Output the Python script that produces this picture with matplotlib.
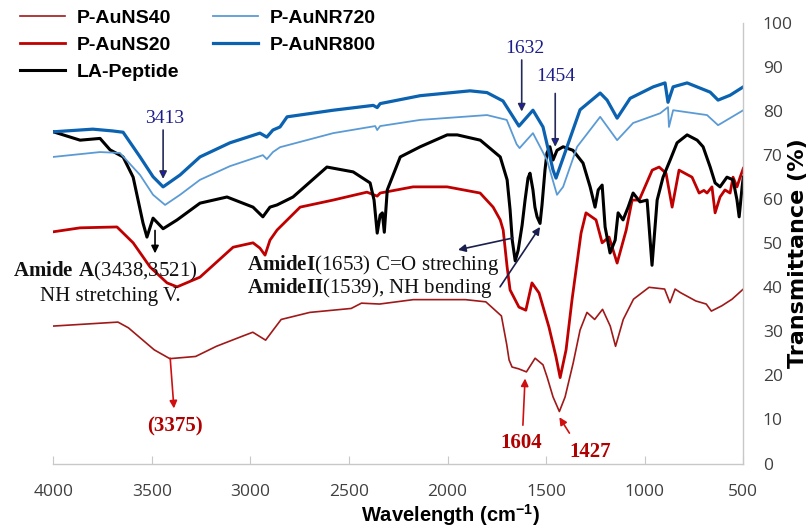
import matplotlib
matplotlib.use('Agg')
import matplotlib.pyplot as plt
from matplotlib.font_manager import FontProperties

plt.rcParams['mathtext.fontset'] = 'custom'
plt.rcParams['mathtext.rm'] = 'Liberation Serif'
plt.rcParams['mathtext.bf'] = 'Liberation Serif:bold'
plt.rcParams['mathtext.sf'] = 'Liberation Sans:bold'

# ---------------- data (wavenumber cm-1, transmittance %) ----------------
wn_nr800 = [4000, 3800, 3700, 3646, 3560, 3494, 3443, 3357, 3256, 3104, 2952, 2917, 2886,
            2850, 2814, 2580, 2377, 2357, 2342, 2139, 1886, 1800, 1719, 1648, 1638, 1567,
            1516, 1465, 1450, 1394, 1328, 1226, 1191, 1140, 1074, 957, 897, 882, 856, 785,
            668, 628, 567, 500]
t_nr800 = [75.3, 75.9, 75.5, 75.2, 69.6, 65.1, 62.8, 65.5, 69.6, 72.8, 75.0, 74.1, 75.7,
           76.4, 78.7, 80.2, 81.3, 80.8, 81.7, 83.5, 84.6, 84.2, 82.3, 77.3, 76.6, 80.2,
           76.4, 66.6, 64.8, 71.9, 80.3, 84.1, 82.5, 78.4, 82.9, 85.5, 86.4, 82.0, 85.5, 86.4,
           84.3, 82.5, 83.6, 85.5]

wn_nr720 = [4000, 3763, 3662, 3560, 3494, 3433, 3357, 3256, 3104, 2937, 2917, 2886, 2850,
            2580, 2367, 2357, 2342, 2139, 1800, 1700, 1650, 1635, 1567, 1496, 1445, 1414,
            1343, 1226, 1140, 1059, 922, 882, 877, 856, 684, 628, 500]
t_nr720 = [69.6, 70.7, 70.5, 65.5, 61.0, 58.7, 61.0, 64.4, 67.5, 70.0, 69.1, 70.7, 71.8,
           75.0, 76.6, 75.7, 76.6, 78.0, 79.1, 78.0, 72.5, 71.6, 75.0, 68.9, 61.0, 62.8,
           71.9, 78.7, 73.4, 77.3, 79.5, 80.9, 76.4, 80.2, 79.1, 76.8, 80.2]

wn_la = [4000, 3864, 3763, 3712, 3646, 3595, 3545, 3525, 3494, 3443, 3372, 3256, 3119, 2987,
         2937, 2901, 2865, 2784, 2612, 2479, 2393, 2373, 2357, 2342, 2331, 2321, 2306, 2240,
         2139, 2002, 1951, 1834, 1733, 1698, 1683, 1672, 1657, 1642, 1622, 1607, 1592, 1582,
         1567, 1557, 1546, 1531, 1521, 1506, 1496, 1481, 1465, 1445, 1414, 1364, 1313, 1277,
         1252, 1236, 1216, 1201, 1176, 1150, 1135, 1110, 1084, 1059, 1024, 988, 963, 937,
         907, 871, 836, 785, 734, 704, 668, 643, 618, 583, 552, 532, 521, 506, 500]
t_la = [75.3, 73.4, 73.8, 71.2, 69.6, 65.0, 54.6, 51.4, 55.7, 53.3, 55.3, 59.1, 60.5, 58.2,
        56.0, 58.2, 58.7, 60.5, 67.3, 66.2, 63.7, 59.8, 52.3, 56.4, 56.9, 52.5, 62.1, 69.6,
        71.9, 74.6, 74.6, 73.4, 69.6, 64.4, 57.6, 50.7, 46.0, 48.4, 54.1, 59.8, 64.8, 65.9,
        62.1, 58.2, 56.0, 54.5, 58.7, 66.6, 70.5, 71.9, 68.9, 71.1, 71.9, 71.1, 68.2, 62.8,
        58.2, 62.1, 63.2, 53.7, 47.8, 50.7, 56.9, 55.3, 58.2, 61.4, 59.4, 59.8, 45.0, 59.8,
        65.0, 68.9, 72.8, 74.6, 73.4, 71.9, 67.3, 63.7, 62.8, 65.0, 64.4, 59.8, 56.0, 62.8, 65.0]

wn_ns20 = [4000, 3864, 3677, 3595, 3509, 3423, 3372, 3256, 3088, 2987, 2952, 2926, 2901, 2865,
           2748, 2581, 2409, 2357, 2342, 2175, 2002, 1835, 1769, 1733, 1718, 1698, 1683, 1638,
           1603, 1572, 1536, 1486, 1450, 1429, 1399, 1369, 1323, 1298, 1247, 1216, 1181, 1140,
           1094, 1064, 1028, 962, 927, 892, 861, 826, 760, 724, 700, 684, 659, 643, 618, 593,
           567, 552, 532, 516, 500]
t_ns20 = [52.6, 53.5, 53.7, 50.1, 44.6, 41.0, 40.1, 42.3, 49.1, 50.1, 48.9, 47.3, 50.7, 53.0,
          58.2, 59.8, 61.6, 60.7, 61.4, 62.8, 62.8, 61.4, 58.2, 55.3, 53.0, 44.6, 39.4, 35.5,
          34.8, 41.0, 38.7, 31.0, 24.2, 19.5, 25.8, 37.1, 52.3, 56.9, 55.3, 50.1, 51.4, 45.5,
          53.0, 59.8, 59.8, 66.6, 67.3, 65.9, 58.2, 66.6, 65.0, 61.4, 62.0, 61.4, 62.8, 56.9,
          60.5, 62.1, 61.4, 65.0, 62.8, 65.0, 67.0]

wn_ns40 = [4000, 3672, 3619, 3488, 3409, 3278, 3173, 3041, 2988, 2923, 2883, 2844, 2699, 2489,
           2437, 2345, 2174, 1910, 1806, 1727, 1700, 1688, 1673, 1640, 1600, 1556, 1516, 1495,
           1465, 1433, 1404, 1363, 1328, 1293, 1254, 1214, 1175, 1148, 1109, 1057, 978, 899,
           872, 846, 819, 741, 688, 662, 609, 557, 500]
t_ns40 = [31.2, 32.1, 30.8, 25.8, 23.8, 24.3, 26.6, 28.9, 29.8, 28.0, 30.4, 32.7, 34.3, 35.2,
          36.4, 36.2, 37.2, 37.2, 36.7, 33.5, 27.0, 23.5, 21.9, 21.5, 20.8, 23.9, 22.4, 19.6,
          15.1, 11.8, 15.1, 22.8, 30.3, 34.3, 32.7, 35.0, 31.2, 26.6, 32.7, 37.3, 40.0, 39.6,
          36.5, 39.6, 38.8, 36.9, 36.2, 34.6, 35.8, 37.3, 39.6]

series_labels = ["P-AuNS40", "P-AuNS20", "LA-Peptide", "P-AuNR720", "P-AuNR800"]
x_ticks = [4000, 3500, 3000, 2500, 2000, 1500, 1000, 500]
y_ticks = [0, 10, 20, 30, 40, 50, 60, 70, 80, 90, 100]

# ---------------- figure ----------------
W, H = 810, 527
fig = plt.figure(figsize=(W / 100, H / 100), dpi=100)
ax = fig.add_axes([53.3 / W, 63.5 / H, 690 / W, 440.5 / H])

l_ns40, = ax.plot(wn_ns40, t_ns40, color='#a01818', lw=1.2)
l_ns20, = ax.plot(wn_ns20, t_ns20, color='#c00000', lw=2.0)
l_la, = ax.plot(wn_la, t_la, color='#000000', lw=2.2)
l_nr720, = ax.plot(wn_nr720, t_nr720, color='#5b9bd5', lw=1.3)
l_nr800, = ax.plot(wn_nr800, t_nr800, color='#0a62b0', lw=2.3)

ax.set_xlim(4000, 500)
ax.set_ylim(0, 100)
ax.set_xticks(x_ticks)
ax.set_yticks(y_ticks)
ax.yaxis.tick_right()
for s in ['left', 'top']:
    ax.spines[s].set_visible(False)
for s in ['right', 'bottom']:
    ax.spines[s].set_color('#c8c8c8')
    ax.spines[s].set_linewidth(1.0)
tickfont = 'Open Sans'
ax.tick_params(axis='x', direction='in', length=6, color='#c8c8c8', pad=15,
               labelsize=12.5, labelcolor='#404040')
ax.tick_params(axis='y', length=0, pad=14, labelsize=12.5, labelcolor='#404040')
for lab in ax.get_xticklabels() + ax.get_yticklabels():
    lab.set_fontfamily(tickfont)

fig.text(450 / W, 1 - 515 / H, r"Wavelength (cm$^{\mathsf{-1}}$)", ha='center', va='center',
         fontsize=14.5, fontweight='bold', fontfamily='Liberation Sans')
fig.text(798 / W, 1 - 253 / H, "Transmittance (%)", ha='center', va='center', rotation=90,
         fontsize=16, fontweight='bold', fontfamily='DejaVu Sans')

# legend
leg = fig.legend([l_ns40, l_ns20, l_la, l_nr720, l_nr800], series_labels,
                 loc='upper left', bbox_to_anchor=(20 / W, 1 - 9 / H), ncol=2, frameon=False,
                 prop=FontProperties(family='Liberation Sans', weight='bold', size=14),
                 handlelength=2.3, handletextpad=0.6, columnspacing=1.75, labelspacing=0.5,
                 borderpad=0, borderaxespad=0)

# ---------------- annotations ----------------
serif = 'Liberation Serif'
navy_t = '#1c1c8a'
navy_arrow = dict(arrowstyle='-|>', ec='#252a5a', fc='#1a1ac8', lw=1.2, mutation_scale=11,
                  shrinkA=0, shrinkB=0)
ax.text(3433, 78.4, "3413", ha='center', va='center', fontfamily=serif, fontsize=14, color=navy_t)
ax.annotate('', xy=(3443, 64.6), xytext=(3443, 75.7), arrowprops=navy_arrow)
ax.text(1609, 94.1, "1632", ha='center', va='center', fontfamily=serif, fontsize=14, color=navy_t)
ax.annotate('', xy=(1624, 79.9), xytext=(1624, 91.6), arrowprops=navy_arrow)
ax.text(1454, 87.8, "1454", ha='center', va='center', fontfamily=serif, fontsize=14, color=navy_t)
ax.annotate('', xy=(1454, 71.9), xytext=(1454, 84.0), arrowprops=navy_arrow)

black_arrow = dict(arrowstyle='-|>', color='black', lw=1.2, mutation_scale=11, shrinkA=0, shrinkB=0)
ax.annotate('', xy=(3484, 47.7), xytext=(3484, 52.9), arrowprops=black_arrow)
ax.text(4204, 43.5, r"$\mathbf{Amide\ A}$(3438,3521)", ha='left', va='center',
        fontfamily=serif, fontsize=15, color='#111111', clip_on=False)
ax.text(4067, 37.8, "NH stretching V.", ha='left', va='center',
        fontfamily=serif, fontsize=15, color='#111111', clip_on=False)

ax.text(3017, 45.1, r"$\mathbf{AmideI}$(1653) C=O streching", ha='left', va='center',
        fontfamily=serif, fontsize=15, color='#111111')
ax.text(3017, 39.8, r"$\mathbf{AmideII}$(1539), NH bending", ha='left', va='center',
        fontfamily=serif, fontsize=15, color='#111111')
dn_arrow = dict(arrowstyle='-|>', color='#1a1f4d', lw=1.2, mutation_scale=11, shrinkA=0, shrinkB=0)
ax.annotate('', xy=(1947, 48.5), xytext=(1668, 51.2), arrowprops=dn_arrow)
ax.annotate('', xy=(1531, 53.7), xytext=(1734, 40.1), arrowprops=dn_arrow)

red_t = '#b00000'
red_arrow = dict(arrowstyle='-|>', color='#d01010', lw=1.2, mutation_scale=11, shrinkA=0, shrinkB=0)
ax.annotate('', xy=(3388, 12.5), xytext=(3407, 23.9), arrowprops=red_arrow)
ax.text(3382, 8.5, "(3375)", ha='center', va='center', fontfamily=serif, fontsize=15,
        fontweight='bold', color=red_t)
ax.annotate('', xy=(1607, 19.3), xytext=(1618, 8.7), arrowprops=red_arrow)
ax.text(1629, 4.6, "1604", ha='center', va='center', fontfamily=serif, fontsize=15,
        fontweight='bold', color=red_t)
ax.annotate('', xy=(1433, 10.5), xytext=(1382, 6.9), arrowprops=red_arrow)
ax.text(1277, 2.7, "1427", ha='center', va='center', fontfamily=serif, fontsize=15,
        fontweight='bold', color=red_t)

fig.savefig('out.png', dpi=100)
